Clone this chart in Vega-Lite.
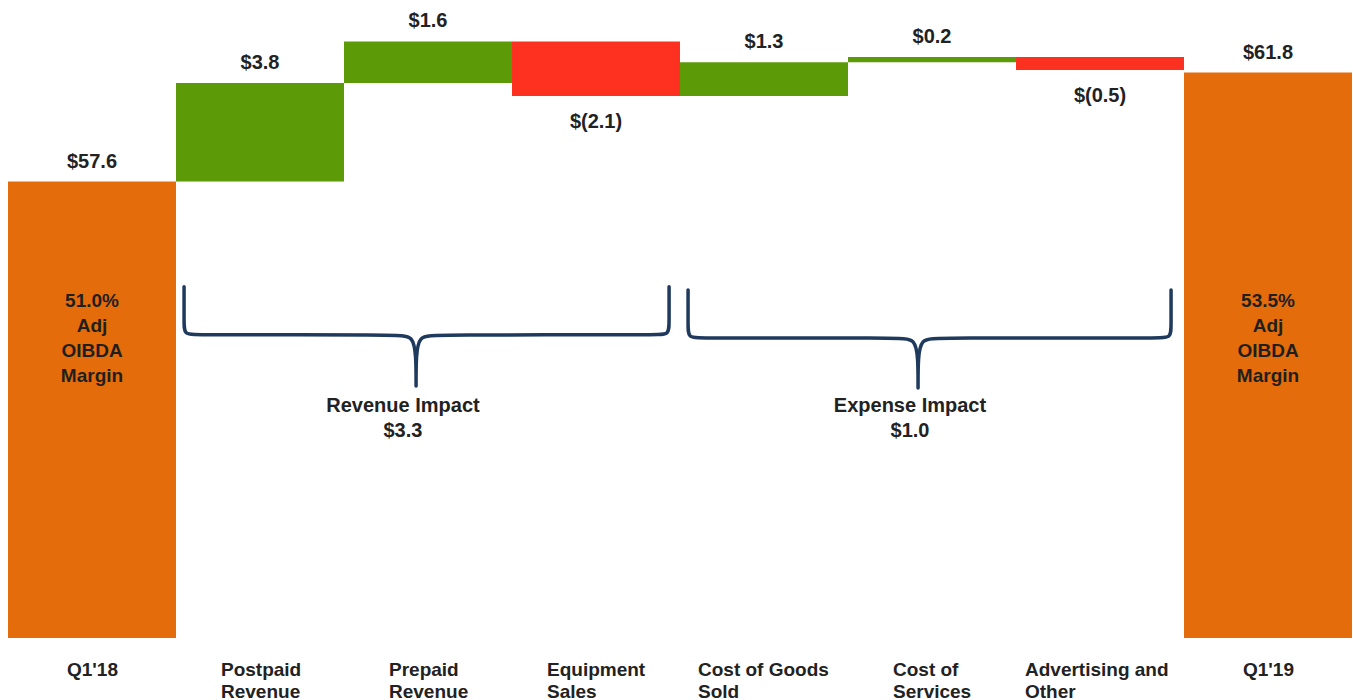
{
  "$schema": "https://vega.github.io/schema/vega-lite/v6.json",
  "width": 1344,
  "height": 638,
  "autosize": {"type": "none"},
  "padding": {"left": 8, "top": 0, "right": 1, "bottom": 62},
  "background": "white",
  "config": {"view": {"stroke": null}, "font": "Liberation Sans"},
  "datasets": {
    "steps": [
      {"step": "Q1'18", "start": 0, "end": 57.6, "kind": "total", "label": "$57.6", "margin": "51.0%\nAdj\nOIBDA\nMargin"},
      {"step": "Postpaid Revenue", "start": 57.6, "end": 61.4, "kind": "up", "label": "$3.8"},
      {"step": "Prepaid Revenue", "start": 61.4, "end": 63.0, "kind": "up", "label": "$1.6"},
      {"step": "Equipment Sales", "start": 63.0, "end": 60.9, "kind": "down", "label": "$(2.1)"},
      {"step": "Cost of Goods Sold", "start": 60.9, "end": 62.2, "kind": "up", "label": "$1.3"},
      {"step": "Cost of Services", "start": 62.2, "end": 62.4, "kind": "up", "label": "$0.2"},
      {"step": "Advertising and Other", "start": 62.4, "end": 61.9, "kind": "down", "label": "$(0.5)"},
      {"step": "Q1'19", "start": 0, "end": 61.8, "kind": "total", "label": "$61.8", "margin": "53.5%\nAdj\nOIBDA\nMargin"}
    ],
    "braces": [
      {"brace": "rev", "i": 1, "x": 1.048, "y": 53.54},
      {"brace": "rev", "i": 2, "x": 1.048, "y": 52.15},
      {"brace": "rev", "i": 3, "x": 1.048, "y": 51.69},
      {"brace": "rev", "i": 4, "x": 1.125, "y": 51.69},
      {"brace": "rev", "i": 5, "x": 2.321, "y": 51.69},
      {"brace": "rev", "i": 6, "x": 2.411, "y": 51.65},
      {"brace": "rev", "i": 7, "x": 2.429, "y": 50.88},
      {"brace": "rev", "i": 8, "x": 2.429, "y": 49.72},
      {"brace": "rev", "i": 9, "x": 2.429, "y": 49.72},
      {"brace": "rev", "i": 10, "x": 2.429, "y": 49.72},
      {"brace": "rev", "i": 11, "x": 2.429, "y": 50.88},
      {"brace": "rev", "i": 12, "x": 2.446, "y": 51.65},
      {"brace": "rev", "i": 13, "x": 2.536, "y": 51.69},
      {"brace": "rev", "i": 14, "x": 3.857, "y": 51.69},
      {"brace": "rev", "i": 15, "x": 3.935, "y": 51.69},
      {"brace": "rev", "i": 16, "x": 3.935, "y": 52.15},
      {"brace": "rev", "i": 17, "x": 3.935, "y": 53.54},
      {"brace": "exp", "i": 1, "x": 4.048, "y": 53.42},
      {"brace": "exp", "i": 2, "x": 4.048, "y": 52.03},
      {"brace": "exp", "i": 3, "x": 4.048, "y": 51.57},
      {"brace": "exp", "i": 4, "x": 4.125, "y": 51.57},
      {"brace": "exp", "i": 5, "x": 5.31, "y": 51.57},
      {"brace": "exp", "i": 6, "x": 5.399, "y": 51.53},
      {"brace": "exp", "i": 7, "x": 5.417, "y": 50.8},
      {"brace": "exp", "i": 8, "x": 5.417, "y": 49.64},
      {"brace": "exp", "i": 9, "x": 5.417, "y": 49.64},
      {"brace": "exp", "i": 10, "x": 5.417, "y": 49.64},
      {"brace": "exp", "i": 11, "x": 5.417, "y": 50.8},
      {"brace": "exp", "i": 12, "x": 5.435, "y": 51.53},
      {"brace": "exp", "i": 13, "x": 5.524, "y": 51.57},
      {"brace": "exp", "i": 14, "x": 6.845, "y": 51.57},
      {"brace": "exp", "i": 15, "x": 6.923, "y": 51.57},
      {"brace": "exp", "i": 16, "x": 6.923, "y": 52.03},
      {"brace": "exp", "i": 17, "x": 6.923, "y": 53.42}
    ],
    "braceLabels": [
      {"text": "Revenue Impact\n$3.3", "x": 2.351, "y": 49.33},
      {"text": "Expense Impact\n$1.0", "x": 5.369, "y": 49.33}
    ]
  },
  "layer": [
    {
      "data": {"name": "steps"},
      "encoding": {
        "x": {
          "field": "step",
          "type": "nominal",
          "sort": null,
          "scale": {
            "domain": ["Q1'18", "Postpaid Revenue", "Prepaid Revenue", "Equipment Sales", "Cost of Goods Sold", "Cost of Services", "Advertising and Other", "Q1'19"],
            "paddingInner": 0,
            "paddingOuter": 0
          },
          "axis": {
            "title": null,
            "domain": false,
            "ticks": false,
            "tickSize": 0,
            "grid": false,
            "labelPadding": 22,
            "labelFont": "Liberation Sans",
            "labelFontSize": 19,
            "labelFontWeight": "bold",
            "labelColor": "#222222",
            "labelAngle": 0,
            "labelLineHeight": 22,
            "labelBaseline": "top",
            "labelAlign": "left",
            "labelLimit": 0,
            "labelExpr": "indexof(datum.label, ' ') < 0 ? datum.label : [substring(datum.label, 0, lastindexof(datum.label, ' ')), substring(datum.label, lastindexof(datum.label, ' ') + 1)]",
            "labelOffset": {
              "condition": [
                {"test": "indexof(datum.value, 'Q1') == 0", "value": -25},
                {"test": "datum.value == 'Equipment Sales'", "value": -49},
                {"test": "datum.value == 'Cost of Goods Sold'", "value": -66},
                {"test": "datum.value == 'Advertising and Other'", "value": -75}
              ],
              "value": -39
            }
          }
        }
      },
      "layer": [
        {
          "mark": {"type": "bar"},
          "encoding": {
            "y": {"field": "start", "type": "quantitative", "scale": {"domain": [40, 64.6], "clamp": true, "nice": false, "zero": false}, "axis": null},
            "y2": {"field": "end"},
            "color": {"field": "kind", "type": "nominal", "scale": {"domain": ["total", "up", "down"], "range": ["#E46C0A", "#5C9A08", "#FE3020"]}, "legend": null}
          }
        },
        {
          "transform": [{"filter": "datum.kind != 'down'"}],
          "mark": {"type": "text", "baseline": "alphabetic", "dy": -14, "fontSize": 20, "fontWeight": "bold", "font": "Liberation Sans", "color": "#222222"},
          "encoding": {
            "y": {"field": "end", "type": "quantitative", "axis": null},
            "text": {"field": "label"}
          }
        },
        {
          "transform": [{"filter": "datum.kind == 'down'"}],
          "mark": {"type": "text", "baseline": "alphabetic", "dy": 32, "fontSize": 20, "fontWeight": "bold", "font": "Liberation Sans", "color": "#222222"},
          "encoding": {
            "y": {"field": "end", "type": "quantitative", "axis": null},
            "text": {"field": "label"}
          }
        },
        {
          "transform": [{"filter": "datum.kind == 'total'"}],
          "mark": {"type": "text", "baseline": "top", "fontSize": 19, "fontWeight": "bold", "font": "Liberation Sans", "lineHeight": 25, "lineBreak": "\n", "color": "#1f1f1f"},
          "encoding": {
            "y": {"datum": 53.35, "type": "quantitative", "axis": null},
            "text": {"field": "margin"}
          }
        }
      ]
    },
    {
      "layer": [
        {
          "data": {"name": "braces"},
          "mark": {"type": "line", "interpolate": "basis", "strokeWidth": 3.5, "color": "#1F3A5C", "strokeCap": "round", "strokeJoin": "round"},
          "encoding": {
            "x": {"field": "x", "type": "quantitative", "scale": {"domain": [0, 8], "nice": false, "zero": false}, "axis": null},
            "y": {"field": "y", "type": "quantitative", "axis": null},
            "order": {"field": "i", "type": "quantitative"},
            "detail": {"field": "brace", "type": "nominal"}
          }
        },
        {
          "data": {"name": "braceLabels"},
          "mark": {"type": "text", "baseline": "top", "fontSize": 20, "fontWeight": "bold", "font": "Liberation Sans", "lineHeight": 25, "lineBreak": "\n", "color": "#222222"},
          "encoding": {
            "x": {"field": "x", "type": "quantitative"},
            "y": {"field": "y", "type": "quantitative", "axis": null},
            "text": {"field": "text"}
          }
        }
      ]
    }
  ],
  "resolve": {"scale": {"x": "independent"}}
}
